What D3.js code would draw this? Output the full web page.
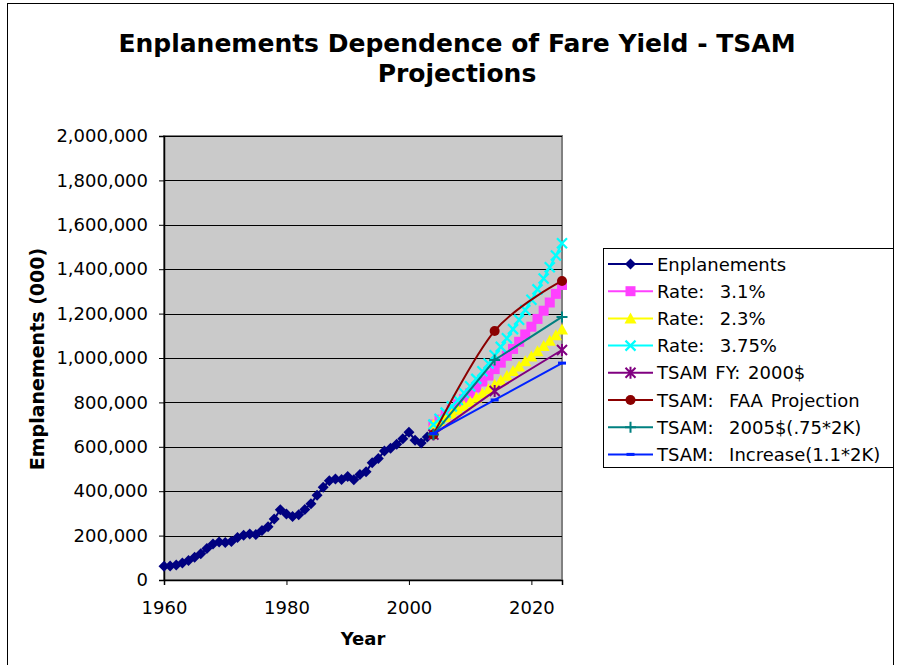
<!DOCTYPE html>
<html>
<head>
<meta charset="utf-8">
<script src="https://cdn.jsdelivr.net/npm/d3@7"></script>
<style>
    body { margin: 0; background: #fff; }
    svg text { font-family: "DejaVu Sans", Verdana, sans-serif; fill: #000; }
</style>
</head>
<body>
<svg id="chart" width="899" height="665"></svg>
<script>
// Historical enplanements (000)
const histYears = [1960, 1961, 1962, 1963, 1964, 1965, 1966, 1967, 1968, 1969,
    1970, 1971, 1972, 1973, 1974, 1975, 1976, 1977, 1978, 1979,
    1980, 1981, 1982, 1983, 1984, 1985, 1986, 1987, 1988, 1989,
    1990, 1991, 1992, 1993, 1994, 1995, 1996, 1997, 1998, 1999,
    2000, 2001, 2002, 2003];
const enplanements = [62000, 63000, 68000, 77000, 88000, 103000, 118000, 142000, 162000, 171000,
    169000, 173000, 191000, 202000, 207000, 205000, 223000, 240000, 275000, 317000,
    297000, 286000, 294000, 318000, 344000, 382000, 418000, 447000, 455000, 453000,
    466000, 452000, 475000, 488000, 528000, 547000, 581000, 594000, 612000, 636000,
    666000, 630000, 617000, 644000];

// Growth-rate projections
const rateYears = [2004, 2005, 2006, 2007, 2008, 2009, 2010, 2011, 2012, 2013, 2014,
    2015, 2016, 2017, 2018, 2019, 2020, 2021, 2022, 2023, 2024, 2025];
const rate31 = [700000, 722000, 744000, 767000, 791000, 815000, 841000, 867000, 894000, 921000, 950000,
    979000, 1010000, 1041000, 1073000, 1106000, 1141000, 1176000, 1213000, 1250000, 1289000, 1329000];
const rate23 = [700000, 716000, 733000, 749000, 767000, 784000, 802000, 821000, 840000, 859000, 879000,
    899000, 920000, 941000, 962000, 985000, 1007000, 1030000, 1054000, 1078000, 1103000, 1128000];
const rate375 = [700000, 726000, 754000, 782000, 811000, 842000, 873000, 906000, 940000, 975000, 1012000,
    1050000, 1089000, 1130000, 1172000, 1216000, 1262000, 1309000, 1358000, 1409000, 1462000, 1517000];

// TSAM projections
const tsamYears = [2004, 2014, 2025];
const tsamFY2000 = [655000, 851000, 1036000];
const tsamFAA = [655000, 1122000, 1347000];
const tsam2005 = [655000, 991000, 1185000];
const tsamIncrease = [660000, 811000, 977000];

const yTicks = [0, 200000, 400000, 600000, 800000, 1000000, 1200000, 1400000, 1600000, 1800000, 2000000];
const xTicks = [1960, 1980, 2000, 2020];

const series = [
    {name: 'Enplanements', years: histYears, values: enplanements, color: '#000080', marker: 'diamond'},
    {name: 'Rate:  3.1%', years: rateYears, values: rate31, color: '#ff40ff', marker: 'square'},
    {name: 'Rate:  2.3%', years: rateYears, values: rate23, color: '#ffff00', marker: 'triangle'},
    {name: 'Rate:  3.75%', years: rateYears, values: rate375, color: '#00ffff', marker: 'x'},
    {name: 'TSAM FY: 2000$', years: tsamYears, values: tsamFY2000, color: '#800080', marker: 'asterisk'},
    {name: 'TSAM:  FAA Projection', years: tsamYears, values: tsamFAA, color: '#8b0000', marker: 'circle', smooth: true},
    {name: 'TSAM:  2005$(.75*2K)', years: tsamYears, values: tsam2005, color: '#008080', marker: 'plus'},
    {name: 'TSAM:  Increase(1.1*2K)', years: tsamYears, values: tsamIncrease, color: '#0022ff', marker: 'dash'}
];

const svg = d3.select('#chart');
const plot = {left: 164, right: 562, top: 136, bottom: 580};

const x = d3.scaleLinear().domain([1960, 2025]).range([plot.left, plot.right]);
const y = d3.scaleLinear().domain([0, 2000000]).range([plot.bottom, plot.top]);

// outer frame
svg.append('rect')
    .attr('x', 7.5).attr('y', 3.5)
    .attr('width', 886).attr('height', 700)
    .attr('fill', 'none').attr('stroke', '#000').attr('stroke-width', 1);

// title
const title = svg.append('text')
    .attr('text-anchor', 'middle')
    .style('font-size', '25px').style('font-weight', 'bold');
title.append('tspan').attr('x', 457).attr('y', 52).text('Enplanements Dependence of Fare Yield - TSAM');
title.append('tspan').attr('x', 457).attr('y', 82).text('Projections');

// plot area
svg.append('rect')
    .attr('x', plot.left).attr('y', plot.top)
    .attr('width', plot.right - plot.left).attr('height', plot.bottom - plot.top)
    .attr('fill', '#cacaca').attr('stroke', '#808080').attr('stroke-width', 2);

// gridlines
svg.append('g')
    .selectAll('line')
    .data(yTicks.filter(d => d > 0))
    .enter().append('line')
    .attr('x1', plot.left).attr('x2', plot.right)
    .attr('y1', d => Math.round(y(d)) + 0.5).attr('y2', d => Math.round(y(d)) + 0.5)
    .attr('stroke', '#000').attr('stroke-width', 1);

// axes
const yAxis = svg.append('g')
    .attr('transform', `translate(${plot.left},0)`)
    .call(d3.axisLeft(y).tickValues(yTicks).tickFormat(d3.format(',')).tickSize(5).tickPadding(11));
const xAxis = svg.append('g')
    .attr('transform', `translate(0,${plot.bottom})`)
    .call(d3.axisBottom(x).tickValues(xTicks).tickFormat(d3.format('d')).tickSize(5).tickPadding(16));
[yAxis, xAxis].forEach(a => {
    a.selectAll('text').style('font-size', '18px').style('font-family', '"DejaVu Sans", Verdana, sans-serif');
    a.select('.domain').attr('stroke', '#000').attr('stroke-width', 1.5);
});

// axis titles
svg.append('text')
    .attr('x', 363).attr('y', 645)
    .attr('text-anchor', 'middle')
    .style('font-size', '18px').style('font-weight', 'bold')
    .text('Year');
svg.append('text')
    .attr('transform', 'translate(44,359) rotate(-90)')
    .attr('text-anchor', 'middle')
    .style('font-size', '19px').style('font-weight', 'bold')
    .text('Emplanements (000)');

// marker shapes
function drawMarker(g, cx, cy, type, color) {
    const m = g.append('g').attr('transform', `translate(${cx},${cy})`);
    if (type === 'diamond') {
        m.append('path').attr('d', 'M0,-5.5L5.5,0L0,5.5L-5.5,0Z').attr('fill', color);
    } else if (type === 'square') {
        m.append('rect').attr('x', -5).attr('y', -5).attr('width', 10).attr('height', 10).attr('fill', color);
    } else if (type === 'triangle') {
        m.append('path').attr('d', 'M0,-6L6,5L-6,5Z').attr('fill', color);
    } else if (type === 'x') {
        m.append('path').attr('d', 'M-5,-5L5,5M-5,5L5,-5')
            .attr('stroke', color).attr('stroke-width', 2.2);
    } else if (type === 'asterisk') {
        m.append('path').attr('d', 'M-5,-5L5,5M-5,5L5,-5M0,-6L0,6')
            .attr('stroke', color).attr('stroke-width', 2);
    } else if (type === 'circle') {
        m.append('circle').attr('r', 5).attr('fill', color);
    } else if (type === 'plus') {
        m.append('path').attr('d', 'M-5.5,0L5.5,0M0,-5.5L0,5.5')
            .attr('stroke', color).attr('stroke-width', 2);
    } else if (type === 'dash') {
        m.append('rect').attr('x', -4).attr('y', -1.5).attr('width', 8).attr('height', 3).attr('fill', color);
    }
}

// series lines and markers, drawn in Excel's order
series.forEach(s => {
    const pts = s.years.map((yr, i) => [x(yr), y(s.values[i])]);
    const line = d3.line()
        .curve(s.smooth ? d3.curveCardinal.tension(0) : d3.curveLinear);
    const g = svg.append('g');
    g.append('path')
        .attr('d', line(pts))
        .attr('fill', 'none')
        .attr('stroke', s.color)
        .attr('stroke-width', 2);
    pts.forEach(p => drawMarker(g, p[0], p[1], s.marker, s.color));
});

// legend
const legend = svg.append('g');
legend.append('rect')
    .attr('x', 603.5).attr('y', 248.5)
    .attr('width', 290).attr('height', 219)
    .attr('fill', '#fff').attr('stroke', '#000').attr('stroke-width', 1);
series.forEach((s, i) => {
    const ly = 264 + i * 27.2;
    const row = legend.append('g');
    row.append('line')
        .attr('x1', 608).attr('x2', 653).attr('y1', ly).attr('y2', ly)
        .attr('stroke', s.color).attr('stroke-width', 2);
    drawMarker(row, 630.5, ly, s.marker, s.color);
    row.append('text')
        .attr('x', 657).attr('y', ly + 6.5)
        .attr('xml:space', 'preserve')
        .style('white-space', 'pre')
        .style('word-spacing', '2px')
        .style('font-size', '18px')
        .text(s.name);
});
</script>
</body>
</html>
